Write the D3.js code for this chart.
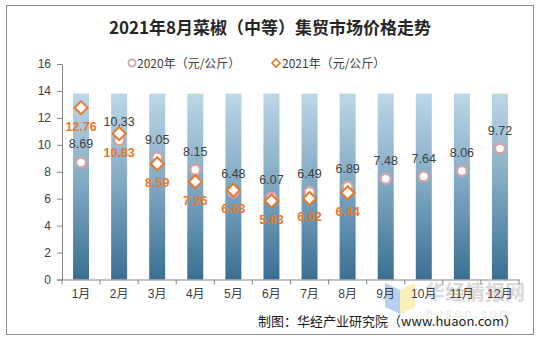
<!DOCTYPE html>
<html>
<head>
<meta charset="utf-8">
<script src="https://cdn.jsdelivr.net/npm/d3@7/dist/d3.min.js"></script>
<style>
  html, body { margin: 0; padding: 0; background: #fff; }
  svg { display: block; }
</style>
</head>
<body>
<svg id="chart" width="540" height="338"></svg>
<script>
// Monthly prices of bell pepper (medium grade), yuan per kg
const months = ["1月","2月","3月","4月","5月","6月","7月","8月","9月","10月","11月","12月"];
const price2020 = [8.69, 10.33, 9.05, 8.15, 6.48, 6.07, 6.49, 6.89, 7.48, 7.64, 8.06, 9.72];
const price2021 = [12.76, 10.83, 8.59, 7.26, 6.63, 5.83, 6.02, 6.44];
// Decorative background column height for each month
const backdrop = [13.8, 13.8, 13.8, 13.8, 13.8, 13.8, 13.8, 13.8, 13.8, 13.8, 13.8, 13.8];
const yTicks = [0, 2, 4, 6, 8, 10, 12, 14, 16];

const svg = d3.select("#chart");
const font = "Arial, 'Liberation Sans', 'Noto Sans CJK SC', sans-serif";

// outer frame
svg.append("rect").attr("x", 6.5).attr("y", 5.5).attr("width", 527).attr("height", 329)
  .attr("fill", "#fff").attr("stroke", "#8c8c8c").attr("stroke-width", 1);

// title
svg.append("text").attr("x", 270).attr("y", 34).attr("text-anchor", "middle")
  .attr("font-family", "'Noto Sans CJK SC', sans-serif").attr("font-weight", "bold")
  .attr("font-size", 17).attr("fill", "#262626")
  .text("2021年8月菜椒（中等）集贸市场价格走势");

const margin = { left: 62, right: 519, top: 64, bottom: 279.5 };
const x = d3.scaleBand().domain(months).range([margin.left, margin.right]).paddingInner(0.58).paddingOuter(0.29);
const y = d3.scaleLinear().domain([0, 16]).range([margin.bottom, margin.top]);

// gradient for the columns
const defs = svg.append("defs");
const grad = defs.append("linearGradient").attr("id", "colGrad").attr("x1", 0).attr("y1", 0).attr("x2", 0).attr("y2", 1);
grad.append("stop").attr("offset", "0%").attr("stop-color", "#bdd7e7");
grad.append("stop").attr("offset", "50%").attr("stop-color", "#7ea7c1");
grad.append("stop").attr("offset", "100%").attr("stop-color", "#3b6f93");

// watermark logo
const wm = svg.append("g").attr("opacity", 0.85);
wm.append("path").attr("d", "M385,283 L400,290 L400,314 L385,307 Z").attr("fill", "#a9c8f2");
wm.append("path").attr("d", "M400,290 L415,283 L415,307 L400,314 Z").attr("fill", "#fbeeae");
wm.append("text").attr("x", 425).attr("y", 300).attr("font-family", "'Noto Sans CJK SC', sans-serif")
  .attr("font-weight", "bold").attr("font-size", 20).attr("fill", "#d4d4d4").text("华经情报网");
wm.append("text").attr("x", 426).attr("y", 318).attr("font-family", font)
  .attr("font-size", 12).attr("letter-spacing", 3).attr("fill", "#e6e6e6").text("huaon.com");

// columns
svg.append("g").selectAll("rect").data(months).join("rect")
  .attr("x", d => x(d)).attr("width", x.bandwidth())
  .attr("y", (d, i) => y(backdrop[i])).attr("height", (d, i) => y(0) - y(backdrop[i]))
  .attr("fill", "url(#colGrad)");

// y axis
const yAxis = svg.append("g").attr("transform", `translate(${margin.left},0)`)
  .call(d3.axisLeft(y).tickValues(yTicks).tickSize(5).tickPadding(6));
yAxis.select(".domain").attr("stroke", "#868686");
yAxis.selectAll(".tick line").attr("stroke", "#868686");
yAxis.selectAll("text").attr("font-family", font).attr("font-size", 12).attr("fill", "#404040");

// x axis with ticks at category boundaries
const xAxis = svg.append("g").attr("transform", `translate(0,${margin.bottom})`)
  .call(d3.axisBottom(x).tickSize(0).tickPadding(10));
xAxis.select(".domain").attr("stroke", "#868686");
xAxis.selectAll("text").attr("font-family", font).attr("font-size", 12).attr("fill", "#404040");
const step = x.step();
const bounds = d3.range(months.length + 1).map(i => margin.left + i * (margin.right - margin.left) / months.length);
xAxis.selectAll(".bound").data(bounds).join("line").attr("class", "bound")
  .attr("x1", d => d).attr("x2", d => d).attr("y1", 0).attr("y2", 5).attr("stroke", "#868686");

const cx = d => x(d) + x.bandwidth() / 2;

// 2020 markers and labels
svg.append("g").selectAll("circle").data(price2020).join("circle")
  .attr("cx", (d, i) => cx(months[i])).attr("cy", d => y(d)).attr("r", 5)
  .attr("fill", "#fff").attr("stroke", "#d4a3a6").attr("stroke-width", 2.5);

// 2021 markers
const dsz = 6.5;
svg.append("g").selectAll("path").data(price2021).join("path")
  .attr("d", (d, i) => {
    const px = cx(months[i]), py = y(d);
    return `M${px},${py - dsz} L${px + dsz},${py} L${px},${py + dsz} L${px - dsz},${py} Z`;
  })
  .attr("fill", "#fff").attr("stroke", "#e8782a").attr("stroke-width", 2);

svg.append("g").selectAll("text").data(price2020).join("text")
  .attr("x", (d, i) => cx(months[i])).attr("y", d => y(d) - 14)
  .attr("text-anchor", "middle").attr("font-family", font).attr("font-size", 12.5)
  .attr("fill", "#404040").text(d => d.toFixed(2));

svg.append("g").selectAll("text").data(price2021).join("text")
  .attr("x", (d, i) => cx(months[i])).attr("y", d => y(d) + 23)
  .attr("text-anchor", "middle").attr("font-family", font).attr("font-size", 12.5)
  .attr("font-weight", "bold").attr("fill", "#e8782a").text(d => d.toFixed(2));

// legend
const lg = svg.append("g").attr("font-family", "'Noto Sans CJK SC', sans-serif").attr("font-size", 12).attr("fill", "#404040");
lg.append("circle").attr("cx", 132).attr("cy", 63).attr("r", 3.6)
  .attr("fill", "#fff").attr("stroke", "#d4a3a6").attr("stroke-width", 1.8);
lg.append("text").attr("x", 137).attr("y", 67.5).text("2020年（元/公斤）");
lg.append("path").attr("d", "M276,59 L280,63 L276,67 L272,63 Z")
  .attr("fill", "#fff").attr("stroke", "#e8782a").attr("stroke-width", 1.6);
lg.append("text").attr("x", 282).attr("y", 67.5).text("2021年（元/公斤）");

// source note
svg.append("text").attr("x", 517).attr("y", 326).attr("text-anchor", "end")
  .attr("font-family", "'Noto Sans CJK SC', sans-serif").attr("font-size", 13).attr("fill", "#1a1a1a")
  .text("制图：华经产业研究院（www.huaon.com）");
</script>
</body>
</html>
